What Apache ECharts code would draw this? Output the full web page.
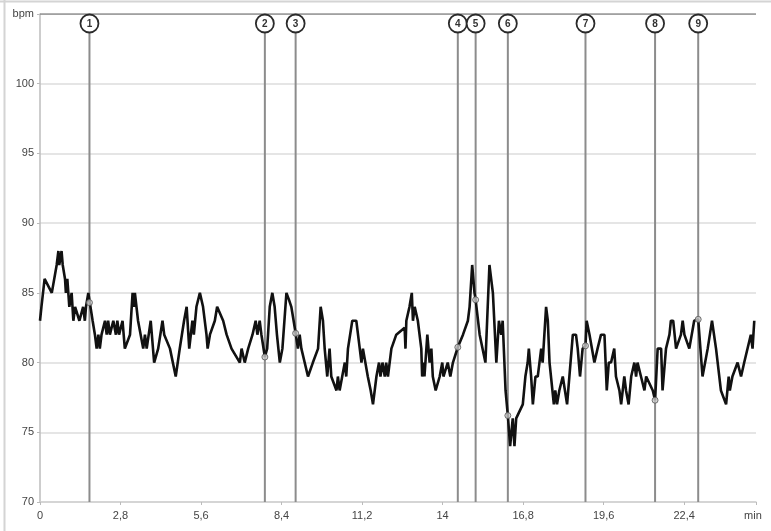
<!DOCTYPE html>
<html>
<head>
<meta charset="utf-8">
<script src="https://cdn.jsdelivr.net/npm/echarts@6/dist/echarts.min.js"></script>
<style>
  html, body { margin: 0; padding: 0; background: #fff; }
  #chart { width: 771px; height: 531px; }
</style>
</head>
<body>
<div id="chart"></div>
<script>
// heart rate trace: time (min) and bpm
const times = [
  0, 0.05, 0.16, 0.41, 0.58, 0.64, 0.67, 0.75, 0.79, 0.87, 0.90, 0.95, 1.02, 1.10, 1.16, 1.22, 1.37, 1.50, 1.56, 1.60, 1.68,
  1.83, 1.91, 1.97, 2.03, 2.08, 2.14, 2.26, 2.32, 2.37, 2.43, 2.55, 2.64, 2.69, 2.75, 2.87, 2.95, 3.13, 3.22, 3.27, 3.30,
  3.41, 3.59, 3.65, 3.71, 3.85, 3.97, 4.11, 4.26, 4.32, 4.52, 4.72, 4.86, 5.01, 5.10, 5.19, 5.30, 5.35, 5.44, 5.56, 5.67,
  5.79, 5.83, 5.91, 6.08, 6.16, 6.37, 6.49, 6.66, 6.95, 7.01, 7.12, 7.24, 7.39, 7.50, 7.56, 7.64, 7.70, 7.82,
  7.90, 7.99, 8.08, 8.16, 8.24, 8.34, 8.43, 8.57, 8.66, 8.74, 8.82, 8.89, 8.97, 9.03, 9.09, 9.32, 9.49, 9.67, 9.76, 9.84,
  9.90, 9.99, 10.07, 10.13, 10.31, 10.36, 10.42, 10.60, 10.65, 10.71, 10.86, 11.00, 11.12, 11.18, 11.23, 11.40, 11.50,
  11.58, 11.70, 11.79, 11.84, 11.91, 11.99, 12.04, 12.10, 12.22, 12.39, 12.68, 12.71, 12.74, 12.85, 12.93, 12.97, 13.03,
  13.14, 13.26, 13.29, 13.34, 13.37, 13.47, 13.55, 13.61, 13.66, 13.76, 13.90, 13.99, 14.03, 14.18, 14.27, 14.36, 14.53,
  14.71, 14.88, 14.94, 15.03, 15.11, 15.15, 15.29, 15.49, 15.55, 15.63, 15.75, 15.87, 15.96, 16.04, 16.09, 16.19, 16.27,
  16.35, 16.44, 16.50, 16.56, 16.79, 16.88, 16.96, 17.00, 17.08, 17.14, 17.23, 17.31, 17.37, 17.43, 17.48, 17.60, 17.66,
  17.72, 17.87, 17.92, 17.98, 18.06, 18.18, 18.33, 18.53, 18.64, 18.70, 18.78, 18.87, 18.97, 19.01, 19.11, 19.28, 19.39,
  19.51, 19.63, 19.71, 19.78, 19.86, 19.97, 20.03, 20.15, 20.21, 20.32, 20.38, 20.47, 20.56, 20.67, 20.73, 20.78, 20.90,
  21.02, 21.08, 21.31, 21.39, 21.48, 21.60, 21.65, 21.77, 21.89, 21.94, 22.02, 22.12, 22.29, 22.35, 22.41, 22.58, 22.75,
  22.89, 23.04, 23.22, 23.37, 23.51, 23.68, 23.86, 23.95, 23.99, 24.08, 24.26, 24.38, 24.49, 24.72, 24.78, 24.84
];
const bpm = [
  83, 84, 86, 85, 87, 88, 87, 88, 87, 86, 85, 86, 84, 85, 83, 84, 83, 84, 83, 84, 85,
  83, 82, 81, 82, 81, 82, 83, 82, 83, 82, 83, 82, 83, 82, 83, 81, 82, 85, 84, 85,
  83, 81, 82, 81, 83, 80, 81, 83, 82, 81, 79, 81, 83, 84, 81, 83, 82, 84, 85, 84,
  82, 81, 82, 83, 84, 83, 82, 81, 80, 81, 80, 81, 82, 83, 82, 83, 82, 80.4,
  81, 84, 85, 84, 82, 80, 81, 85, 84.5, 84, 83, 82.1, 81, 82, 81, 79, 80, 81, 84, 83,
  81, 79, 81, 79, 78, 79, 78, 80, 79, 81, 83, 83, 81, 80, 81, 79, 78,
  77, 79, 80, 79, 80, 79, 80, 79, 81, 82, 82.5, 81, 83, 84, 85, 83, 84,
  83, 81, 79, 80, 79, 82, 80, 81, 79, 78, 79, 80, 79, 80, 79, 80, 81.1,
  82, 83, 84, 87, 85, 84.5, 82, 80, 83, 87, 85, 80, 83, 82, 83, 78, 76.2,
  74, 76, 74, 76, 77, 79, 80, 81, 79, 77, 79, 79, 80, 81, 80, 84, 83,
  80, 77, 78, 77, 78, 79, 77, 82, 82, 81, 79, 81, 81.2, 83, 82, 80, 81,
  82, 82, 78, 80, 80, 81, 79, 78, 77, 79, 78, 77, 79, 80, 79, 80, 79,
  78, 79, 78, 77.3, 81, 81, 78, 81, 82, 83, 83, 81, 82, 83, 82, 81, 83,
  83.1, 79, 81, 83, 81, 78, 77, 79, 78, 79, 80, 79, 80, 82, 81, 83
];

// numbered events: time (min), bpm where the line is crossed
const eventLabels = ['1', '2', '3', '4', '5', '6', '7', '8', '9'];
const eventTimes = [1.72, 7.82, 8.89, 14.53, 15.15, 16.27, 18.97, 21.39, 22.89];
const eventBpm = [84.3, 80.4, 82.1, 81.1, 84.5, 76.2, 81.2, 77.3, 83.1];

const xMin = 0, xMax = 24.9, xStep = 2.8;
const yMin = 70, yMax = 105, yStep = 5;

const chart = echarts.init(document.getElementById('chart'));

const labelFont = { color: '#444', fontSize: 11, fontFamily: 'Liberation Sans, Arial, sans-serif' };

function renderEvent(params, api) {
    const cs = params.coordSys;
    const x = api.coord([api.value(0), yMin])[0];
    const bottom = cs.y + cs.height;
    const cy = cs.y + 9.5;
    const r = 9;
    return {
        type: 'group',
        children: [
            {
                type: 'line',
                shape: { x1: x, y1: cy + r, x2: x, y2: bottom },
                style: { stroke: '#8c8c8c', lineWidth: 2 }
            },
            {
                type: 'circle',
                shape: { cx: x, cy: cy, r: r },
                style: { fill: '#fff', stroke: '#2a2a2a', lineWidth: 1.8 }
            },
            {
                type: 'text',
                style: {
                    text: eventLabels[params.dataIndex],
                    x: x, y: cy + 0.5,
                    align: 'center', verticalAlign: 'middle',
                    font: 'bold 10px "Liberation Sans", Arial, sans-serif',
                    fill: '#333'
                }
            }
        ]
    };
}

const option = {
    animation: false,
    backgroundColor: '#fff',
    graphic: [
        {
            type: 'line',
            shape: { x1: 0, y1: 1.5, x2: 771, y2: 1.5 },
            style: { stroke: '#d4d4d4', lineWidth: 2 },
            silent: true
        },
        {
            type: 'line',
            shape: { x1: 4.5, y1: 0, x2: 4.5, y2: 531 },
            style: { stroke: '#d4d4d4', lineWidth: 2 },
            silent: true
        }
    ],
    grid: { left: 40, right: 15, top: 14, bottom: 29 },
    xAxis: {
        type: 'value',
        min: xMin, max: xMax, interval: xStep,
        axisLine: { show: true, lineStyle: { color: '#cfcfcf', width: 1.5 } },
        axisTick: { show: true, length: 3, lineStyle: { color: '#bbb' } },
        splitLine: { show: false },
        axisLabel: Object.assign({
            margin: 8,
            formatter: v => (v >= xMax - 0.01 ? 'min  ' : String(+v.toFixed(1)).replace('.', ','))
        }, labelFont)
    },
    yAxis: {
        type: 'value',
        min: yMin, max: yMax, interval: yStep,
        axisLine: { show: true, lineStyle: { color: '#bdbdbd', width: 1.5 } },
        axisTick: { show: true, length: 3, lineStyle: { color: '#bbb' } },
        splitLine: { show: true, lineStyle: { color: '#dcdcdc', width: 1.5 } },
        axisLabel: Object.assign({
            margin: 6,
            formatter: v => (v === yMax ? 'bpm' : String(v))
        }, labelFont)
    },
    series: [
        {
            // top border of the plot
            type: 'line',
            data: [[xMin, yMax], [xMax, yMax]],
            symbol: 'none',
            silent: true,
            lineStyle: { color: '#8a8a8a', width: 1.5 },
            z: 1
        },
        {
            type: 'custom',
            renderItem: renderEvent,
            data: eventTimes.map((t, i) => [t, eventBpm[i]]),
            z: 2
        },
        {
            type: 'line',
            data: times.map((t, i) => [t, bpm[i]]),
            symbol: 'none',
            lineStyle: { color: '#111', width: 2.6 },
            z: 3
        },
        {
            type: 'scatter',
            data: eventTimes.map((t, i) => [t, eventBpm[i]]),
            symbol: 'circle',
            symbolSize: 6,
            itemStyle: { color: '#c8c8c8', borderColor: '#555', borderWidth: 1 },
            z: 4
        }
    ]
};

chart.setOption(option);
</script>
</body>
</html>
